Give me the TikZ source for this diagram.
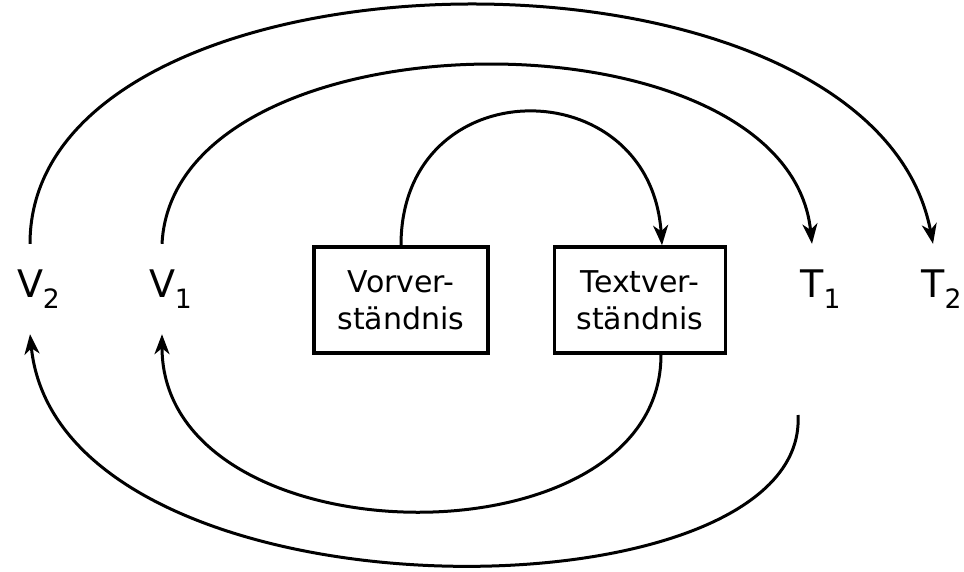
\documentclass[tikz,border=0pt]{standalone}
\usepackage{fontspec}
\setmainfont{DejaVu Sans}
\usetikzlibrary{arrows.meta}

\begin{document}
\begin{tikzpicture}[x=1pt,y=-1pt,
  box/.style={draw,line width=3.5pt,minimum height=106pt,inner sep=0pt,align=center,font=\fontsize{30}{37}\selectfont},
  lbl/.style={minimum height=90pt,inner sep=0pt,font=\fontsize{38}{38}\selectfont},
  arc/.style={line width=3pt,-{Stealth[length=20pt,width=15pt,inset=6pt]}}]
\useasboundingbox (0,0) rectangle (964,571);
% boxes
\node[box,minimum width=174pt] (vor) at (401,300) {Vorver-\\ständnis};
\node[box,minimum width=171pt] (text) at (640,300) {Textver-\\ständnis};
% labels
\node[lbl] (V2) at (30,289) {V\rlap{\textsubscript{2}}};
\node[lbl] (V1) at (162,289) {V\rlap{\textsubscript{1}}};
\node[lbl] (T1) at (812,289) {T\rlap{\textsubscript{1}}};
\node[lbl] (T2) at (933,289) {T\rlap{\textsubscript{2}}};
\coordinate (T1low) at (798,415);
% upper arcs
\draw[arc] (vor.north) .. controls +(0,-177) and +(-12,-177) .. ([xshift=22pt]text.north);
\draw[arc] (V1.north) .. controls +(12,-235) and +(-25,-240) .. (T1.north);
\draw[arc] (V2.north) .. controls +(0,-310) and +(-62,-325) .. (T2.north);
% lower arcs
\draw[arc] ([xshift=21pt]text.south) .. controls +(0,215) and +(0,228) .. (V1.south);
\draw[arc] (T1low) .. controls +(12,210) and +(30,295) .. (V2.south);
\end{tikzpicture}
\end{document}
